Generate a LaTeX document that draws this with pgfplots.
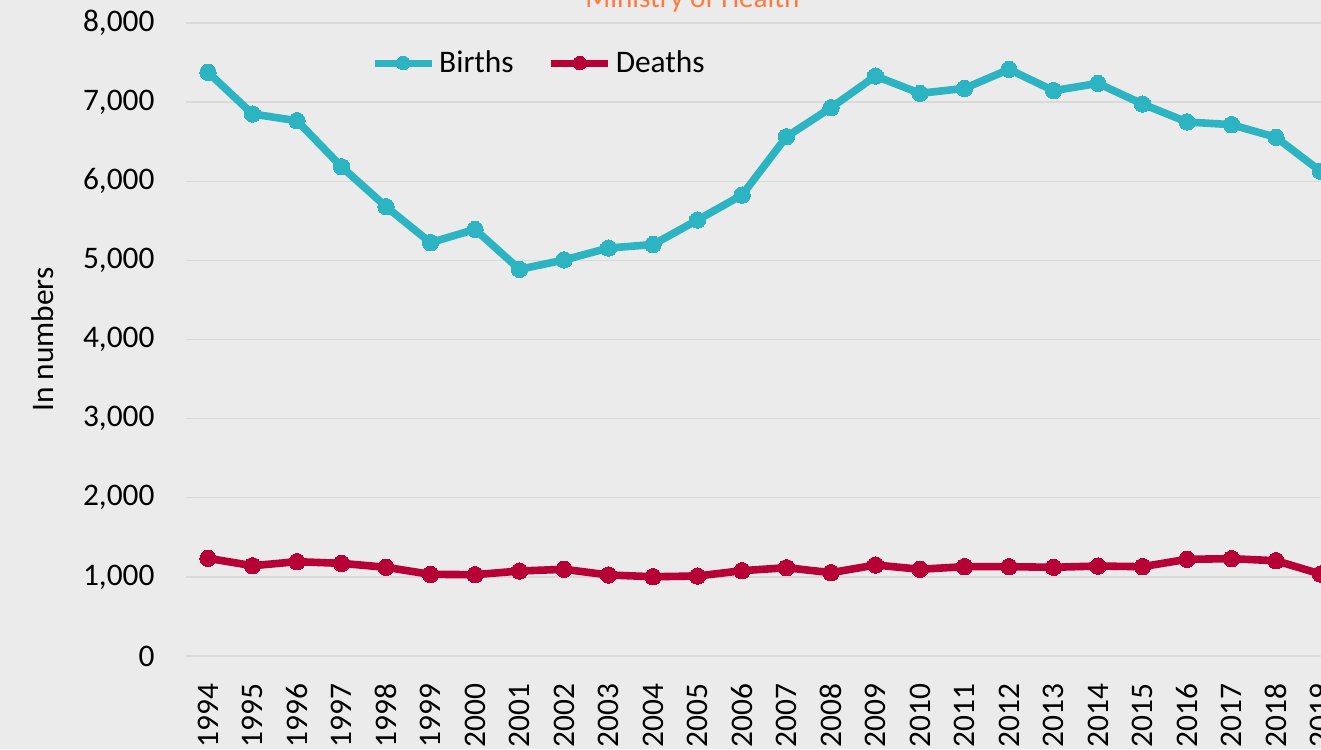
\documentclass[border=0pt]{standalone}
\usepackage{pgfplots}
\pgfplotsset{compat=1.18}
\usepackage{fontspec}
\setmainfont{Carlito}
\definecolor{bg}{RGB}{235,235,235}
\definecolor{gridc}{RGB}{217,217,217}
\definecolor{births}{RGB}{44,180,194}
\definecolor{deaths}{RGB}{183,0,54}
\definecolor{titlec}{RGB}{255,122,62}
\newcommand{\chartfont}{\fontsize{15.7}{18}\selectfont}
\begin{document}
\begin{tikzpicture}
\useasboundingbox (0pt,0pt) rectangle (660.5pt,374.5pt);
\clip (0pt,0pt) rectangle (660.5pt,374.5pt);
\fill[bg] (0pt,0pt) rectangle (660.5pt,374.5pt);
\node[anchor=base, text=titlec, font=\fontsize{14.6}{17}\selectfont, inner sep=0pt] at (346.25pt,370.75pt) {Ministry of Health};
\begin{axis}[
  at={(92.875pt,46.5pt)}, anchor=south west,
  scale only axis, width=589.625pt, height=316.5pt,
  xmin=1993.5, xmax=2020, ymin=0, ymax=8000,
  axis line style={draw=none}, major tick length=0pt,
  xtick={1994,1995,...,2019}, ytick={0,1000,...,8000},
  ymajorgrids, grid style={gridc, line width=0.7pt},
  /pgf/number format/assume math mode=true,
  tick label style={font=\chartfont},
  x tick label style={/pgf/number format/1000 sep={}, rotate=90, anchor=east, inner xsep=13.5pt, inner ysep=0pt},
  y tick label style={/pgf/number format/1000 sep={,}, anchor=east, inner xsep=15.4pt, inner ysep=0pt},
  ylabel={In numbers},
  every axis y label/.style={at={(axis description cs:-0.1215,0.5)}, rotate=90, anchor=center, font=\chartfont},
  legend style={at={(0.3004,0.9368)}, anchor=center, draw=none, fill=none, font=\chartfont,
    /tikz/every even column/.append style={column sep=15pt}},
  legend columns=2,
  legend image code/.code={\draw[mark repeat=2,mark phase=2,#1, mark size=3.4pt, line width=3.5pt] plot coordinates {(0pt,0pt)(14.25pt,0pt)(28.5pt,0pt)};},
]
\addplot[births, line width=3.8pt, line join=round, mark=*, mark size=4.1pt, mark options={solid, fill=births, draw=births, line width=0pt}] coordinates {
(1994,7377)(1995,6850)(1996,6765)(1997,6184)(1998,5679)(1999,5224)(2000,5392)
(2001,4887)(2002,5005)(2003,5156)(2004,5200)(2005,5510)(2006,5826)(2007,6563)
(2008,6930)(2009,7330)(2010,7111)(2011,7174)(2012,7414)(2013,7145)(2014,7237)
(2015,6976)(2016,6749)(2017,6715)(2018,6555)(2019,6126)};
\addlegendentry{Births}
\addplot[deaths, line width=3.8pt, line join=round, mark=*, mark size=4.1pt, mark options={solid, fill=deaths, draw=deaths, line width=0pt}] coordinates {
(1994,1235)(1995,1141)(1996,1192)(1997,1171)(1998,1121)(1999,1032)(2000,1028)
(2001,1074)(2002,1096)(2003,1024)(2004,1002)(2005,1011)(2006,1078)(2007,1116)
(2008,1053)(2009,1150)(2010,1096)(2011,1129)(2012,1129)(2013,1121)(2014,1137)
(2015,1129)(2016,1222)(2017,1230)(2018,1204)(2019,1036)};
\addlegendentry{Deaths}
\end{axis}
\end{tikzpicture}
\end{document}
